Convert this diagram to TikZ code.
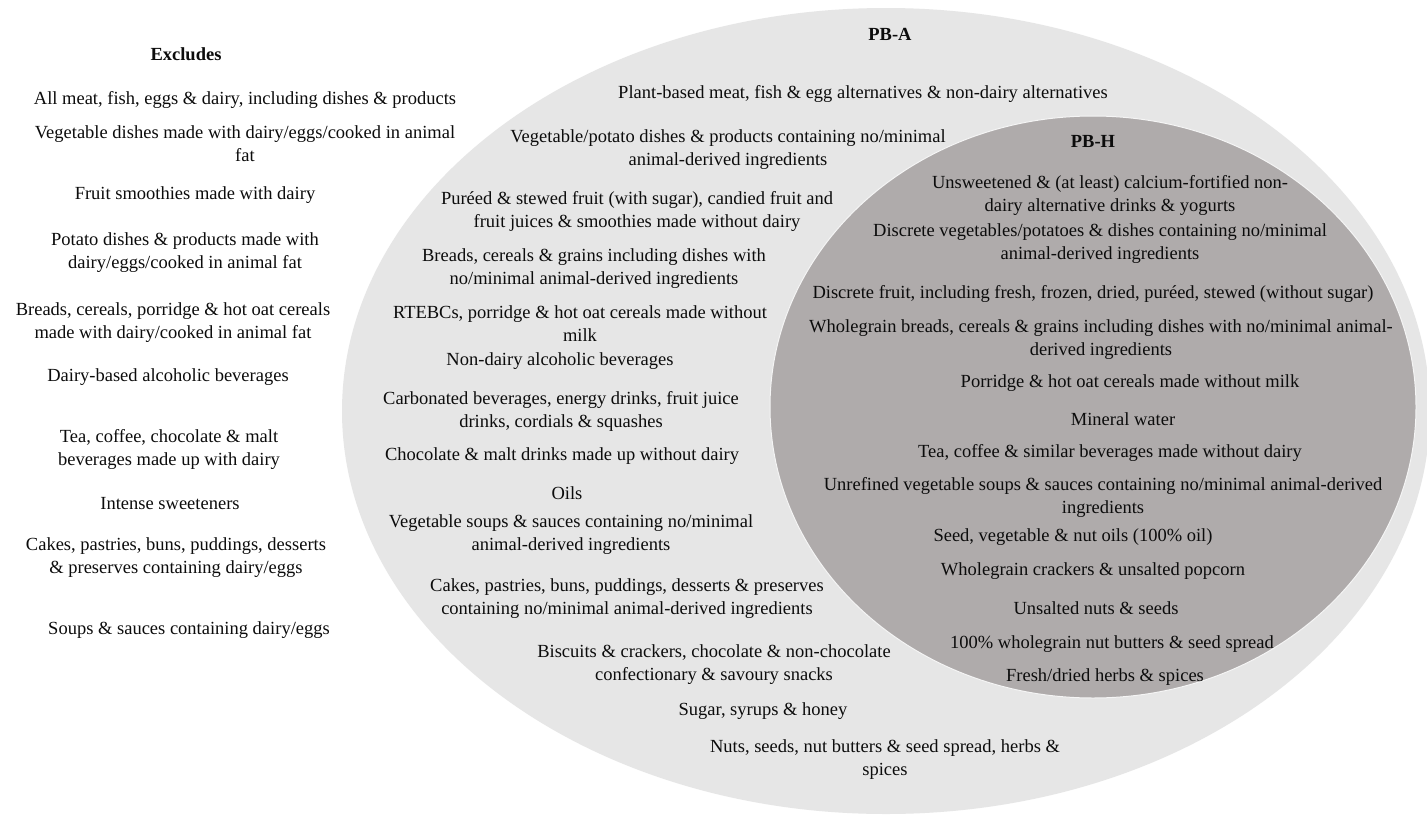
\documentclass[tikz,border=0pt]{standalone}
\usepackage{fontspec}
\setmainfont{Liberation Serif}
\usetikzlibrary{shapes.geometric}
\definecolor{pbaFill}{RGB}{230,230,230}
\definecolor{pbhFill}{RGB}{175,171,171}
\definecolor{inkText}{RGB}{12,12,12}
\begin{document}
\begin{tikzpicture}[x=1pt,y=-1pt,
  item/.style={align=center,inner sep=0pt,text=inkText,yshift=-1.5pt,
    font=\fontsize{18.5}{23}\selectfont},
  heading/.style={item,font=\fontsize{18.5}{23}\selectfont\bfseries},
  setshape/.style={ellipse,inner sep=0pt,outer sep=0pt}]
\useasboundingbox (0,0) rectangle (1427,814);
\clip (0,0) rectangle (1427,814);
\fill[white] (0,0) rectangle (1427,814);

% the two nested sets
\node[setshape,fill=pbaFill,minimum width=1088pt,minimum height=806pt] (pba) at (886,411) {};
\node[setshape,fill=pbhFill,draw=white!92!gray,line width=1pt,minimum width=646pt,minimum height=582pt] (pbh) at (1093,407) {};

% excluded foods
\node[heading] (exTitle) at (186,53) {Excludes};
\node[item] (ex1) at (245,98) {All meat, fish, eggs \& dairy, including dishes \& products};
\node[item] (ex2) at (245,142.5) {Vegetable dishes made with dairy/eggs/cooked in animal\\fat};
\node[item] (ex3) at (195,194) {Fruit smoothies made with dairy};
\node[item] (ex4) at (185,251) {Potato dishes \& products made with\\dairy/eggs/cooked in animal fat};
\node[item] (ex5) at (173,321.5) {Breads, cereals, porridge \& hot oat cereals\\made with dairy/cooked in animal fat};
\node[item] (ex6) at (168,376) {Dairy-based alcoholic beverages};
\node[item] (ex7) at (169,447.5) {Tea, coffee, chocolate \& malt\\beverages made up with dairy};
\node[item] (ex8) at (170,502) {Intense sweeteners};
\node[item] (ex9) at (176,556) {Cakes, pastries, buns, puddings, desserts\\\& preserves containing dairy/eggs};
\node[item] (ex10) at (189,629) {Soups \& sauces containing dairy/eggs};

% PB-A only
\node[heading] (pbaTitle) at (890,33) {PB-A};
\node[item] (a1) at (863,92) {Plant-based meat, fish \& egg alternatives \& non-dairy alternatives};
\node[item] (a2) at (728,148) {Vegetable/potato dishes \& products containing no/minimal\\animal-derived ingredients};
\node[item] (a3) at (637,210) {Puréed \& stewed fruit (with sugar), candied fruit and\\fruit juices \& smoothies made without dairy};
\node[item] (a4) at (594,267) {Breads, cereals \& grains including dishes with\\no/minimal animal-derived ingredients};
\node[item] (a5) at (580,322.5) {RTEBCs, porridge \& hot oat cereals made without\\milk};
\node[item] (a6) at (560,360) {Non-dairy alcoholic beverages};
\node[item] (a7) at (561,410) {Carbonated beverages, energy drinks, fruit juice\\drinks, cordials \& squashes};
\node[item] (a8) at (562,455) {Chocolate \& malt drinks made up without dairy};
\node[item] (a9) at (567,492) {Oils};
\node[item] (a10) at (571,533.5) {Vegetable soups \& sauces containing no/minimal\\animal-derived ingredients};
\node[item] (a11) at (627,597) {Cakes, pastries, buns, puddings, desserts \& preserves\\containing no/minimal animal-derived ingredients};
\node[item] (a12) at (714,663) {Biscuits \& crackers, chocolate \& non-chocolate\\confectionary \& savoury snacks};
\node[item] (a13) at (763,710) {Sugar, syrups \& honey};
\node[item] (a14) at (885,758) {Nuts, seeds, nut butters \& seed spread, herbs \&\\spices};

% PB-H
\node[heading] (pbhTitle) at (1093,140) {PB-H};
\node[item] (h1) at (1110,194) {Unsweetened \& (at least) calcium-fortified non-\\dairy alternative drinks \& yogurts};
\node[item] (h2) at (1100,242.5) {Discrete vegetables/potatoes \& dishes containing no/minimal\\animal-derived ingredients};
\node[item] (h3) at (1093,292) {Discrete fruit, including fresh, frozen, dried, puréed, stewed (without sugar)};
\node[item] (h4) at (1101,338.5) {Wholegrain breads, cereals \& grains including dishes with no/minimal animal-\\derived ingredients};
\node[item] (h5) at (1130,382) {Porridge \& hot oat cereals made without milk};
\node[item] (h6) at (1123,418) {Mineral water};
\node[item] (h7) at (1110,451) {Tea, coffee \& similar beverages made without dairy};
\node[item] (h8) at (1103,495.5) {Unrefined vegetable soups \& sauces containing no/minimal animal-derived\\ingredients};
\node[item] (h9) at (1073,536) {Seed, vegetable \& nut oils (100\% oil)};
\node[item] (h10) at (1093,570) {Wholegrain crackers \& unsalted popcorn};
\node[item] (h11) at (1096,607) {Unsalted nuts \& seeds};
\node[item] (h12) at (1112,643) {100\% wholegrain nut butters \& seed spread};
\node[item] (h13) at (1105,676) {Fresh/dried herbs \& spices};
\end{tikzpicture}
\end{document}
